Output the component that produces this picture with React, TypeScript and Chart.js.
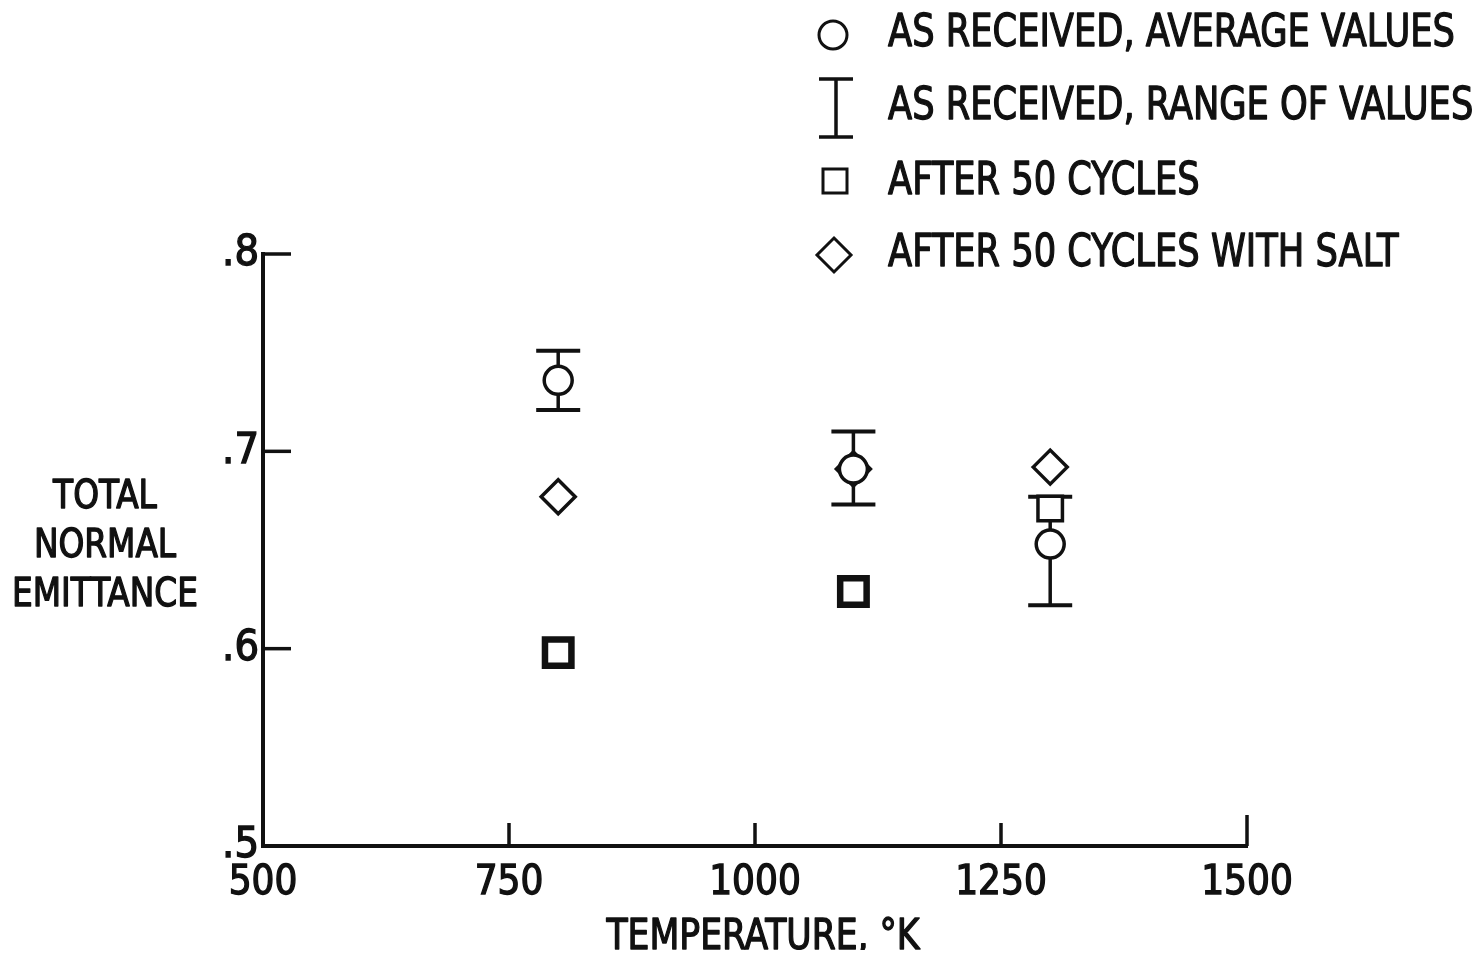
import React, { useEffect, useRef } from 'react';
import { Chart, registerables } from 'chart.js';

Chart.register(...registerables);

// ---- data ----
const temperatures = [800, 1100, 1300];
const averageValues = [0.736, 0.691, 0.653];
const rangeLow = [0.721, 0.673, 0.622];
const rangeHigh = [0.751, 0.71, 0.677];
const after50Cycles = [0.598, 0.629, 0.671];
const after50CyclesSalt = [0.677, 0.691, 0.692];
const xTickValues = [500, 750, 1000, 1250, 1500];
const yTickValues = [0.5, 0.6, 0.7, 0.8];
const legendLabels = [
  'AS RECEIVED, AVERAGE VALUES',
  'AS RECEIVED, RANGE OF VALUES',
  'AFTER 50 CYCLES',
  'AFTER 50 CYCLES WITH SALT',
];
const yTitleLines = ['TOTAL', 'NORMAL', 'EMITTANCE'];
const xTitle = 'TEMPERATURE, \u00B0K';

const FONT = "'Liberation Sans Narrow', 'DejaVu Sans Condensed', 'Arial Narrow', sans-serif";
const INK = '#111';

function scaledText(ctx: CanvasRenderingContext2D, text: string, x: number, yCenter: number, size: number, sx: number, align: CanvasTextAlign) {
  ctx.save();
  ctx.font = `${size}px ${FONT}`;
  ctx.textAlign = align;
  ctx.textBaseline = 'alphabetic';
  ctx.translate(x, yCenter + size * 0.36);
  ctx.scale(sx, 1);
  ctx.fillStyle = INK;
  ctx.strokeStyle = INK;
  ctx.lineWidth = 1.3;
  ctx.lineJoin = 'round';
  ctx.fillText(text, 0, 0);
  ctx.strokeText(text, 0, 0);
  ctx.restore();
}

const errorBarPlugin = {
  id: 'errorBars',
  beforeDatasetsDraw(chart: any) {
    const { ctx, scales } = chart;
    const x = scales.x;
    const y = scales.y;
    ctx.save();
    ctx.strokeStyle = INK;
    temperatures.forEach((t, i) => {
      const px = x.getPixelForValue(t);
      const yl = y.getPixelForValue(rangeLow[i]);
      const yh = y.getPixelForValue(rangeHigh[i]);
      ctx.lineWidth = 3.5;
      ctx.beginPath();
      ctx.moveTo(px, yl);
      ctx.lineTo(px, yh);
      ctx.stroke();
      ctx.lineWidth = 4;
      ctx.beginPath();
      ctx.moveTo(px - 22, yl);
      ctx.lineTo(px + 22, yl);
      ctx.moveTo(px - 22, yh);
      ctx.lineTo(px + 22, yh);
      ctx.stroke();
    });
    ctx.restore();
  },
};

const innerTicksPlugin = {
  id: 'innerTicks',
  afterDraw(chart: any) {
    const { ctx, chartArea, scales } = chart;
    const x = scales.x;
    const y = scales.y;
    ctx.save();
    ctx.strokeStyle = INK;
    ctx.lineWidth = 3.5;
    x.ticks.forEach((t: any) => {
      if (t.value === x.min) return;
      const px = x.getPixelForValue(t.value);
      const len = t.value === x.max ? 31 : 23;
      ctx.beginPath();
      ctx.moveTo(px, chartArea.bottom);
      ctx.lineTo(px, chartArea.bottom - len);
      ctx.stroke();
    });
    y.ticks.forEach((t: any) => {
      if (t.value === y.min) return;
      const py = y.getPixelForValue(t.value);
      ctx.beginPath();
      ctx.moveTo(chartArea.left, py);
      ctx.lineTo(chartArea.left + 28, py);
      ctx.stroke();
    });
    ctx.restore();
  },
};

const annotationsPlugin = {
  id: 'legendAndTitle',
  afterDraw(chart: any) {
    const ctx: CanvasRenderingContext2D = chart.ctx;
    const { chartArea } = chart;
    ctx.save();
    ctx.fillStyle = INK;
    ctx.strokeStyle = INK;

    // x title
    const xSize = 42;
    ctx.font = `${xSize}px ${FONT}`;
    const xSx = 313 / ctx.measureText(xTitle).width;
    scaledText(ctx, xTitle, (chartArea.left + chartArea.right) / 2 + 8, 926, xSize, xSx, 'center');

    // y title (horizontal, three lines)
    const ySize = 39;
    ctx.font = `${ySize}px ${FONT}`;
    const ySx = 186 / ctx.measureText('EMITTANCE').width;
    const yCenters = [486, 535, 584];
    yTitleLines.forEach((line, i) => scaledText(ctx, line, 97, yCenters[i], ySize, ySx, 'center'));

    // legend
    const lSize = 45;
    ctx.font = `${lSize}px ${FONT}`;
    const lSx = 567 / ctx.measureText(legendLabels[0]).width;
    const rows = [22, 95, 170, 242];
    legendLabels.forEach((label, i) => scaledText(ctx, label, 880, rows[i], lSize, lSx, 'left'));

    // legend symbols
    ctx.lineWidth = 3;
    ctx.beginPath();
    ctx.arc(825, 27, 14, 0, Math.PI * 2);
    ctx.stroke();

    ctx.lineWidth = 3.5;
    ctx.beginPath();
    ctx.moveTo(828, 71);
    ctx.lineTo(828, 129);
    ctx.moveTo(811, 71);
    ctx.lineTo(845, 71);
    ctx.moveTo(811, 129);
    ctx.lineTo(845, 129);
    ctx.stroke();

    ctx.lineWidth = 3;
    ctx.strokeRect(815, 161, 24, 24);

    ctx.beginPath();
    ctx.moveTo(826, 230);
    ctx.lineTo(843, 247);
    ctx.lineTo(826, 264);
    ctx.lineTo(809, 247);
    ctx.closePath();
    ctx.stroke();

    ctx.restore();
  },
};

export default function App() {
  const ref = useRef<HTMLCanvasElement>(null);

  useEffect(() => {
    const toPoints = (ys: number[]) => temperatures.map((t, i) => ({ x: t, y: ys[i] }));
    const chart = new Chart(ref.current as HTMLCanvasElement, {
      type: 'scatter',
      data: {
        datasets: [
          {
            label: legendLabels[0],
            data: toPoints(averageValues),
            pointStyle: 'circle',
            pointRadius: 14,
            pointBorderWidth: 3.5,
            pointBorderColor: INK,
            pointBackgroundColor: '#fff',
            showLine: false,
          },
          {
            label: legendLabels[3],
            data: toPoints(after50CyclesSalt),
            pointStyle: 'rectRot',
            pointRadius: 17,
            pointBorderWidth: 3.5,
            pointBorderColor: INK,
            pointBackgroundColor: 'rgba(0,0,0,0)',
            showLine: false,
          },
          {
            label: legendLabels[2],
            data: toPoints(after50Cycles),
            pointStyle: 'rect',
            pointRadius: [18.7, 18.7, 17.3],
            pointBorderWidth: [6.5, 6.5, 3.5],
            pointBorderColor: INK,
            pointBackgroundColor: '#fff',
            showLine: false,
          },
        ] as any,
      },
      options: {
        animation: false,
        responsive: true,
        maintainAspectRatio: false,
        events: [],
        layout: { padding: { left: 155, right: 227, top: 246, bottom: 0 } },
        plugins: {
          legend: { display: false },
          tooltip: { enabled: false },
        },
        scales: {
          x: {
            type: 'linear',
            min: 500,
            max: 1500,
            afterBuildTicks: (s: any) => {
              s.ticks = xTickValues.map((value) => ({ value }));
            },
            afterFit: (s: any) => {
              s.height = 104;
            },
            ticks: {
              font: { family: FONT, size: 40 },
              color: INK,
              textStrokeColor: INK,
              textStrokeWidth: 1.3,
              padding: 14,
              maxRotation: 0,
              autoSkip: false,
              callback: (v: any) => String(v),
            },
            grid: { display: false, drawTicks: false },
            border: { display: true, color: INK, width: 4 },
            title: { display: false },
          },
          y: {
            type: 'linear',
            min: 0.5,
            max: 0.8,
            afterBuildTicks: (s: any) => {
              s.ticks = yTickValues.map((value) => ({ value }));
            },
            afterFit: (s: any) => {
              s.width = 100;
            },
            ticks: {
              font: { family: FONT, size: 43 },
              color: INK,
              textStrokeColor: INK,
              textStrokeWidth: 1.3,
              padding: 4,
              callback: (v: any) => Number(v).toFixed(1).replace(/^0/, ''),
            },
            grid: { display: false, drawTicks: false },
            border: { display: true, color: INK, width: 4 },
          },
        },
      } as any,
      plugins: [errorBarPlugin, innerTicksPlugin, annotationsPlugin],
    });
    return () => chart.destroy();
  }, []);

  return (
    <div style={{ width: 1466, height: 942, position: 'relative' }}>
      <canvas ref={ref} />
    </div>
  );
}
